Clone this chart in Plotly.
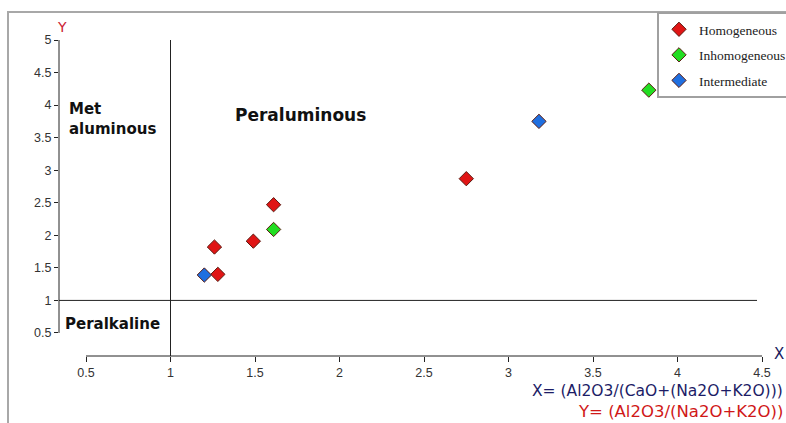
import plotly.graph_objects as go

# ---- data ----
series_names = ["Homogeneous", "Inhomogeneous", "Intermediate"]
series_colors = ["#e01515", "#22dd22", "#1f6fe0"]
homog_x = [1.26, 1.49, 1.61, 1.28, 2.75]
homog_y = [1.82, 1.91, 2.47, 1.40, 2.87]
inhomog_x = [1.61, 3.83]
inhomog_y = [2.09, 4.23]
inter_x = [1.20, 3.18]
inter_y = [1.39, 3.75]
x_ticks = [0.5, 1, 1.5, 2, 2.5, 3, 3.5, 4, 4.5]
x_tick_text = ["0.5", "1", "1.5", "2", "2.5", "3", "3.5", "4", "4.5"]
y_ticks = [0.5, 1, 1.5, 2, 2.5, 3, 3.5, 4, 4.5, 5]
y_tick_text = ["0.5", "1", "1.5", "2", "2.5", "3", "3.5", "4", "4.5", "5"]

xs = [homog_x, inhomog_x, inter_x]
ys = [homog_y, inhomog_y, inter_y]

# geometry (pixels)
L, R, T, B = 59, 770, 30, 356
W, H = 786, 423
pw, ph = R - L, B - T
x_range = [0.3402, 4.547]
y_range = [0.146, 5.154]

def px_x(p):
    return (p - L) / pw

def px_y(p):
    return (B - p) / ph

fig = go.Figure()
for name, col, x, y in zip(series_names, series_colors, xs, ys):
    fig.add_trace(go.Scatter(
        x=x, y=y, mode="markers", name=name, legendgroup=name,
        marker=dict(symbol="diamond", size=11, color=col,
                    line=dict(color="#5a1a10", width=1)),
    ))

shapes = [
    # outer gray frame
    dict(type="rect", xref="paper", yref="paper",
         x0=px_x(8), x1=px_x(800), y0=px_y(440), y1=px_y(12),
         line=dict(color="#a8a8a8", width=2), layer="below"),
    # y axis line
    dict(type="line", xref="paper", yref="y", x0=0, x1=0, y0=0.5, y1=5,
         line=dict(color="#222", width=1)),
    # x axis line
    dict(type="line", xref="x", yref="paper", x0=0.5, x1=4.5, y0=0, y1=0,
         line=dict(color="#222", width=1)),
    # vertical boundary at x=1
    dict(type="line", xref="x", yref="paper", x0=1, x1=1, y0=0, y1=px_y(40),
         line=dict(color="#222", width=1)),
    # horizontal boundary at y=1
    dict(type="line", xref="paper", yref="y", x0=0, x1=px_x(757), y0=1, y1=1,
         line=dict(color="#222", width=1)),
]

bold = "DejaVu Sans"
annotations = [
    dict(x=1.772, y=3.85, xref="x", yref="y", text="<b>Peraluminous</b>",
         showarrow=False, font=dict(family=bold, size=17, color="#111")),
    dict(x=0.388, y=3.78, xref="x", yref="y", text="<b>Met<br>aluminous</b>",
         showarrow=False, xanchor="left", align="left",
         font=dict(family=bold, size=15, color="#111")),
    dict(x=0.362, y=0.64, xref="x", yref="y", text="<b>Peralkaline</b>",
         showarrow=False, xanchor="left",
         font=dict(family=bold, size=15, color="#111")),
    dict(x=px_x(62), y=px_y(27), xref="paper", yref="paper", text="Y",
         xanchor="center", yanchor="middle",
         showarrow=False, font=dict(family="DejaVu Sans", size=14, color="#cc2233")),
    dict(x=px_x(779), y=px_y(354), xref="paper", yref="paper", text="X",
         xanchor="center", yanchor="middle",
         showarrow=False, font=dict(family="DejaVu Sans", size=15, color="#1a1a5e")),
    dict(x=px_x(785), y=px_y(391), xref="paper", yref="paper",
         xanchor="right", yanchor="middle",
         text="X= (Al2O3/(CaO+(Na2O+K2O)))",
         showarrow=False, font=dict(family="DejaVu Sans", size=15.5, color="#1c1c66")),
    dict(x=px_x(785), y=px_y(411), xref="paper", yref="paper",
         xanchor="right", yanchor="middle",
         text="Y= (Al2O3/(Na2O+K2O))",
         showarrow=False, font=dict(family="DejaVu Sans", size=16.5, color="#d01818")),
]

fig.update_layout(
    width=W, height=H,
    margin=dict(l=L, r=W - R, t=T, b=H - B, autoexpand=False),
    paper_bgcolor="white", plot_bgcolor="white",
    xaxis=dict(range=x_range, tickvals=x_ticks, ticktext=x_tick_text,
               showgrid=False, zeroline=False, showline=False,
               ticks="outside", ticklen=5, tickcolor="#222",
               tickfont=dict(family="Liberation Sans", size=12.5, color="#333")),
    yaxis=dict(range=y_range, tickvals=y_ticks, ticktext=y_tick_text,
               showgrid=False, zeroline=False, showline=False,
               ticks="outside", ticklen=4, tickcolor="#222",
               tickfont=dict(family="Liberation Sans", size=12.5, color="#333")),
    legend=dict(x=px_x(657), y=px_y(12), xanchor="left", yanchor="top",
                bgcolor="white", bordercolor="#a0a0a0", borderwidth=2,
                traceorder="grouped", tracegroupgap=5,
                font=dict(family="Liberation Serif", size=13.5, color="#222")),
    shapes=shapes, annotations=annotations,
    showlegend=True,
)

fig.write_html("out.html")
